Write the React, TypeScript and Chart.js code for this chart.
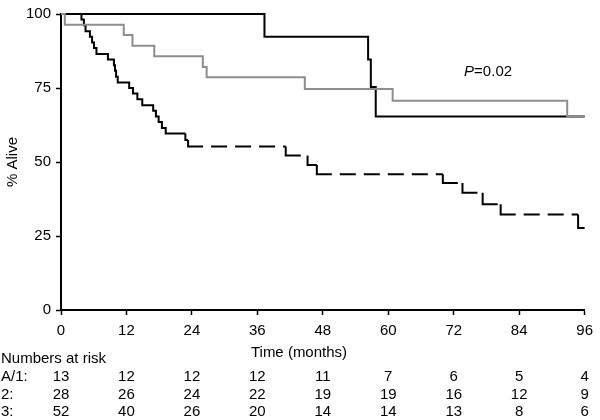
import React, { useEffect, useRef } from 'react';
import { Chart, registerables } from 'chart.js';

Chart.register(...registerables);

const timeTicks = [0, 12, 24, 36, 48, 60, 72, 84, 96];

const groupA1Times = [0, 37.3, 56.3, 56.8, 57.7, 96];
const groupA1Values = [100, 92.3, 84.6, 75.3, 65.4, 65.4];

const group2Times = [0, 0.7, 11.5, 13.1, 17.1, 26.0, 26.7, 44.7, 60.8, 92.8, 96];
const group2Values = [100, 96.4, 92.9, 89.3, 85.7, 82.1, 78.6, 74.7, 70.7, 65.4, 65.4];

const group3Times = [0, 3.75, 4.2, 4.5, 5.3, 5.7, 6.05, 6.5, 8.6, 9.7, 9.9, 10.1, 10.4, 12.5, 13.2, 14.0, 14.9, 16.9, 17.4, 17.9, 18.5, 19.2, 22.8, 23.3, 41.2, 45.2, 46.9, 70.0, 73.6, 77.3, 80.6, 94.8, 96];
const group3Values = [100, 98.1, 96.2, 94.2, 92.3, 90.4, 88.5, 86.5, 84.6, 82.7, 80.8, 78.8, 76.9, 75.0, 73.1, 71.2, 69.2, 67.3, 65.4, 63.5, 61.5, 59.6, 57.4, 55.2, 52.2, 49.0, 45.9, 42.9, 39.6, 35.7, 32.3, 27.7, 27.7];
const group3DashFrom = 22;

const riskRowLabels = ['A/1:', '2:', '3:'];
const riskA1 = [13, 12, 12, 12, 11, 7, 6, 5, 4];
const risk2 = [28, 26, 24, 22, 19, 19, 16, 12, 9];
const risk3 = [52, 40, 26, 20, 14, 14, 13, 8, 6];

const pValueText = '=0.02';
const pValuePos = { x: 73.9, y: 80.3 };

const FONT = 'Arial, "Liberation Sans", Helvetica, sans-serif';

// Kaplan-Meier step points: each segment = drop at t_i, then flat until t_{i+1}
// (used with stepped: 'after', which draws the vertical part first).
const toKM = (t: number[], v: number[]) => t.map((x, i) => ({ x, y: v[Math.max(i - 1, 0)] }));

const riskPlugin = {
  id: 'riskTable',
  afterDraw(chart: any) {
    const ctx = chart.ctx;
    const xs = chart.scales.x;
    const ys = chart.scales.y;
    ctx.save();
    ctx.fillStyle = '#000';
    ctx.textBaseline = 'middle';
    ctx.font = `15px ${FONT}`;
    ctx.textAlign = 'center';
    ctx.fillText('Time (months)', 299, 353);
    ctx.textAlign = 'left';
    ctx.fillText('Numbers at risk', 1, 359);
    const rows = [riskA1, risk2, risk3];
    const rowY = [377, 394.5, 412];
    rows.forEach((row, r) => {
      ctx.textAlign = 'left';
      ctx.fillText(riskRowLabels[r], 1, rowY[r]);
      ctx.textAlign = 'center';
      row.forEach((n, i) => {
        ctx.fillText(String(n), xs.getPixelForValue(timeTicks[i]), rowY[r]);
      });
    });
    const px = xs.getPixelForValue(pValuePos.x);
    const py = ys.getPixelForValue(pValuePos.y);
    ctx.textAlign = 'left';
    ctx.font = `italic 15px ${FONT}`;
    ctx.fillText('P', px, py);
    const w = ctx.measureText('P').width;
    ctx.font = `15px ${FONT}`;
    ctx.fillText(pValueText, px + w, py);
    ctx.restore();
  },
};

const dashFor = (c: any) => {
  if (c.p0.parsed.x < group3DashFrom) return undefined;
  const v = Math.abs(c.p1.y - c.p0.y);
  const pat: number[] = [v + 15, 8];
  for (let k = 0; k < 8; k++) pat.push(16, 8);
  return pat;
};

export default function App() {
  const ref = useRef<HTMLCanvasElement>(null);
  useEffect(() => {
    document.body.style.margin = '0';
    const canvas = ref.current!;
    const chart = new Chart(canvas, {
      type: 'line',
      data: {
        datasets: [
          {
            label: '2',
            data: toKM(group2Times, group2Values),
            borderColor: '#8e8e8e',
            borderWidth: 2,
            stepped: 'after',
            pointRadius: 0,
            fill: false,
            clip: false,
          },
          {
            label: 'A/1',
            data: toKM(groupA1Times, groupA1Values),
            borderColor: '#000',
            borderWidth: 2,
            stepped: 'after',
            pointRadius: 0,
            fill: false,
            clip: false,
          },
          {
            label: '3',
            data: toKM(group3Times, group3Values),
            borderColor: '#000',
            borderWidth: 2,
            stepped: 'after',
            pointRadius: 0,
            fill: false,
            clip: false,
            segment: {
              borderDash: dashFor,
              borderDashOffset: (c: any) => (c.p0.parsed.x < group3DashFrom ? undefined : c.p0DataIndex * 0.0001),
            },
          },
        ] as any,
      },
      options: {
        responsive: false,
        animation: false,
        devicePixelRatio: 1,
        layout: { padding: { left: 0, right: 10, top: 11, bottom: 80 } },
        plugins: { legend: { display: false }, tooltip: { enabled: false } },
        scales: {
          x: {
            type: 'linear',
            min: 0,
            max: 96,
            afterFit: (s: any) => { s.height = 30; },
            ticks: { stepSize: 12, color: '#000', font: { size: 15, family: FONT }, padding: 7, maxRotation: 0 },
            grid: { display: true, drawOnChartArea: false, tickLength: 5, tickColor: '#000', tickWidth: 1.5 },
            border: { display: true, color: '#000', width: 2 },
          },
          y: {
            min: 0,
            max: 100,
            afterFit: (s: any) => { s.width = 61; },
            ticks: { stepSize: 25, color: '#000', font: { size: 15, family: FONT }, padding: 5 },
            grid: { display: true, drawOnChartArea: false, tickLength: 5, tickColor: '#000', tickWidth: 1.5 },
            border: { display: true, color: '#000', width: 2 },
            title: { display: true, text: '% Alive', color: '#000', font: { size: 15, family: FONT }, padding: { top: 4, bottom: 0 } },
          },
        },
      },
      plugins: [riskPlugin],
    });
    return () => chart.destroy();
  }, []);
  return <canvas ref={ref} width={600} height={420} style={{ display: 'block' }} />;
}
